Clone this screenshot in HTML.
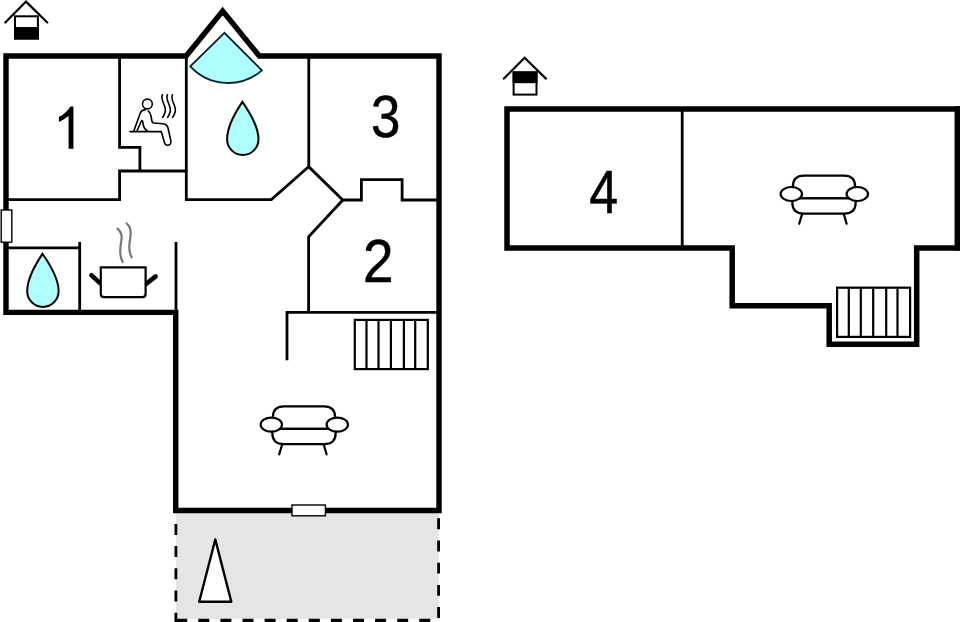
<!DOCTYPE html>
<html>
<head>
<meta charset="utf-8">
<title>Floor plan</title>
<style>
html,body{margin:0;padding:0;background:#fff;}
body{width:960px;height:622px;overflow:hidden;font-family:"Liberation Sans",sans-serif;}
svg{display:block;}
text{font-family:"Liberation Sans",sans-serif;fill:#000;}
</style>
</head>
<body>
<svg width="960" height="622" viewBox="0 0 960 622">
<defs>
  <g id="sofa" fill="#fff" stroke="#000" stroke-width="2.2" stroke-linecap="round" stroke-linejoin="round">
    <!-- legs -->
    <path d="M282.3,444 L279.2,454.4 M323.6,444 L326.6,454.4" fill="none"/>
    <!-- back -->
    <path d="M272.9,428.9 V417 Q272.9,406.3 284,406.3 H324 Q335.1,406.3 335.1,417 V428.9 Z"/>
    <!-- seat -->
    <path d="M272.3,428.9 H335.7 V433 Q335.7,444.2 324,444.2 H284 Q272.3,444.2 272.3,433 Z"/>
    <ellipse cx="271.3" cy="424.6" rx="10.7" ry="7.0"/>
    <ellipse cx="337.3" cy="424.6" rx="10.7" ry="7.0"/>
  </g>
  <g id="stairs" fill="#fff" stroke="#000" stroke-width="2.2">
    <rect x="354.8" y="319.9" width="73" height="49.2"/>
    <path d="M366.5,319.9 V369.1 M378.5,319.9 V369.1 M390.9,319.9 V369.1 M403.9,319.9 V369.1 M415.2,319.9 V369.1" fill="none"/>
  </g>
  <g id="drop">
    <path d="M242.4,101.9 C238.4,108 227.1,124 227.1,139.3 A15.7,15.7 0 0 0 258.5,139.3 C258.5,124 246.4,108 242.4,101.9 Z" fill="#afffff" stroke="#000" stroke-width="2" stroke-linejoin="miter"/>
  </g>
  <g id="house" stroke="#000" fill="none">
    <path d="M5.3,22.5 L26,1.6 L47.3,22.5" stroke-width="2.2" stroke-linecap="round" stroke-linejoin="miter"/>
    <rect x="15" y="16.3" width="22.9" height="22.2" stroke-width="2" fill="#fff"/>
  </g>
</defs>

<!-- terrace -->
<rect x="175.9" y="512" width="262.8" height="106.8" fill="#e5e5e5"/>
<path d="M175.9,501.7 V622" stroke="#000" stroke-width="2.8" stroke-dasharray="11 11.2" fill="none"/>
<path d="M176.2,620.3 H440" stroke="#000" stroke-width="3.2" stroke-dasharray="11 11.1" fill="none"/>
<path d="M438.6,618 V500" stroke="#000" stroke-width="2.8" stroke-dasharray="10.9 11.3" fill="none"/>
<path d="M215.3,539.5 L199.2,601.7 H231.3 Z" fill="#fff" stroke="#000" stroke-width="2.4" stroke-linejoin="round"/>

<!-- building 1 thin walls -->
<g fill="none" stroke="#000" stroke-width="2.8" stroke-linejoin="miter" stroke-linecap="butt">
  <path d="M119.6,56 V147.4 H139.9 V171"/>
  <path d="M6,199.6 H119.6 V171 H186.3"/>
  <path d="M186.3,56 V199.6 H271.4 L308.6,166.8"/>
  <path d="M308.8,56 V166.8 L342.8,200 H361.4 V179.6 H402.1 V200 H439"/>
  <path d="M342.8,200 L308.6,236.7 V312.3"/>
  <path d="M287,360.2 V312.3 H439"/>
  <path d="M6,247.9 H79.7"/>
  <path d="M79.7,241.9 V312"/>
  <path d="M176,241.9 V312"/>
</g>

<!-- building 1 thick walls -->
<path d="M6,312.4 V56 H186.1 L222.7,11 L259.3,56 H439 V510.5 H175.7 V312.4 Z" fill="none" stroke="#000" stroke-width="5.4" stroke-linejoin="miter"/>

<!-- windows -->
<rect x="1.2" y="210" width="10.6" height="32.2" fill="#fff" stroke="#000" stroke-width="1.4"/>
<rect x="292" y="505" width="33.4" height="10.8" fill="#fff" stroke="#000" stroke-width="1.4"/>

<!-- shower fan -->
<path d="M224.4,32.8 L190.3,66.4 A51.5,51.5 0 0 0 261.9,70.4 Z" fill="#afffff" stroke="#04222a" stroke-width="1.8" stroke-linejoin="miter"/>

<!-- drops -->
<use href="#drop"/>
<use href="#drop" transform="translate(-199.9,151.9)"/>

<!-- sauna -->
<g fill="none" stroke="#000" stroke-width="1.6" stroke-linecap="round" stroke-linejoin="round">
  <circle cx="147.4" cy="104" r="4.9"/>
  <path d="M130,131.6 H161.4"/>
  <path d="M145.4,109.6 C142.5,110 141,111 140.3,113 L134,130.5"/>
  <path d="M137,131 L141.2,121.3 C141.8,120.3 142.6,120.6 142.7,121.6 C143,126 144,129 147.3,131"/>
  <path d="M148.2,111 C150,112 150.6,114 151,116 L152,121.5 C152.2,122.6 152.8,122.9 154,123 L163,123.8 C166,124.2 167.5,125.5 168,128 L170.9,141 C171.4,144 169.5,145.2 167.5,145.2 C165.8,145.2 165,144.4 164.5,142.8 L161.4,132"/>
  <path d="M162.4,94.8 C159.8,100 166.8,106 165.2,111.5 C164.8,113.5 164,115.5 162.6,117.4"/>
  <path d="M167.4,94.8 C164.8,100 171.8,106 170.2,111.5 C169.8,113.5 169,115.5 167.6,117.4"/>
  <path d="M172.4,94.8 C169.8,100 176.8,106 175.2,111.5 C174.8,113.5 174,115.5 172.6,117.4"/>
</g>

<!-- pot -->
<g>
  <path d="M117.4,228.6 C123.5,233 121.5,240 120.6,246 C119.8,252 120.2,257.5 122.7,262" fill="none" stroke="#787878" stroke-width="2.2" stroke-linecap="round"/>
  <path d="M126.7,223.5 C132,228 130.8,235 129.8,241 C128.8,247 129.2,253 131.7,257.4" fill="none" stroke="#787878" stroke-width="2.2" stroke-linecap="round"/>
  <path d="M91.4,275.2 L100.6,283.6 M155.6,276.4 L146.4,283.8" stroke="#000" stroke-width="4.6" stroke-linecap="round" fill="none"/>
  <path d="M100.8,267.4 H145.6 V294 Q145.6,297.2 142.4,297.2 H104 Q100.8,297.2 100.8,294 Z" fill="#fff" stroke="#000" stroke-width="2.2" stroke-linejoin="miter"/>
</g>

<use href="#stairs"/>
<use href="#sofa"/>

<!-- building 2 -->
<path d="M682.2,109 V248" fill="none" stroke="#000" stroke-width="2.8"/>
<path d="M960,109 H507 V247.9 H732.2 V305.7 H829.2 V344.3 H916.7 V247.9 H960" fill="none" stroke="#000" stroke-width="5.5" stroke-linejoin="miter"/>
<path d="M957.3,106.3 V250.6" fill="none" stroke="#000" stroke-width="5.5"/>
<use href="#stairs" transform="translate(482.3,-32.2)"/>
<use href="#sofa" transform="translate(520,-230.6)"/>

<!-- house icons -->
<use href="#house"/>
<rect x="14" y="27" width="24.9" height="12.5" fill="#000"/>
<use href="#house" transform="translate(498.6,56.1)"/>
<rect x="512.6" y="71.4" width="24.9" height="11.8" fill="#000"/>

<!-- numbers -->
<path transform="translate(52.9,148.8) scale(0.0269,-0.0288)" d="M763 0H583V1147Q518 1085 412.5 1023Q307 961 223 930V1104Q374 1175 487 1276Q600 1377 647 1472H763Z" fill="#000"/>
<g stroke="#000" stroke-width="0.5" stroke-linejoin="round">
<text transform="translate(378.3,281.6) scale(0.940,1.0285)" x="0" y="0" font-size="58.5" text-anchor="middle">2</text>
<text transform="translate(385.8,136.8) scale(0.904,1.026)" x="0" y="0" font-size="58.5" text-anchor="middle">3</text>
<text transform="translate(603.8,213.0) scale(0.888,1.035)" x="0" y="0" font-size="58.5" text-anchor="middle">4</text>
</g>
</svg>
</body>
</html>
